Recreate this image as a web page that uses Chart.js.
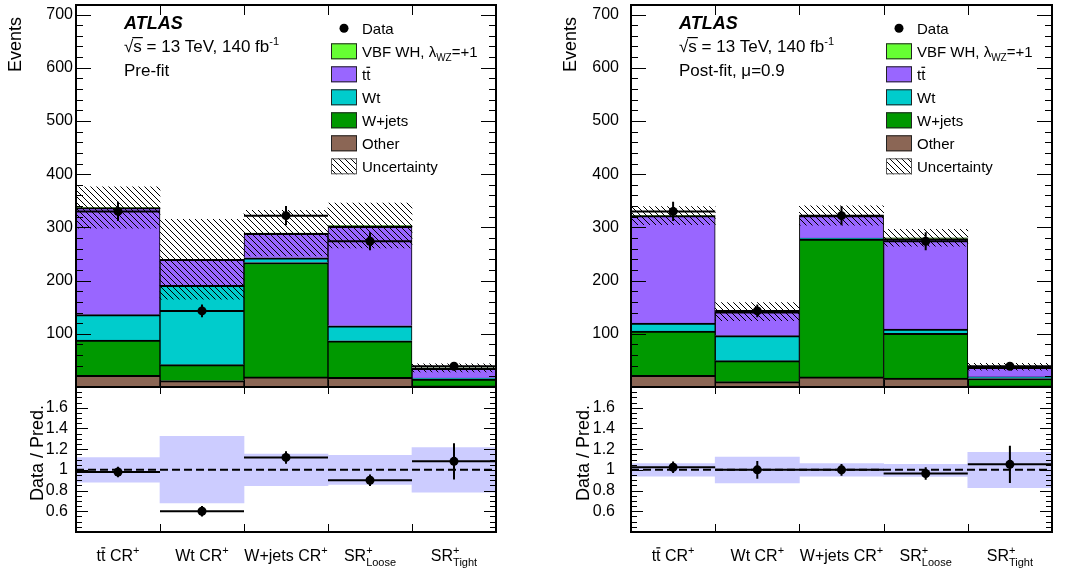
<!DOCTYPE html>
<html>
<head>
<meta charset="utf-8">
<script src="https://cdn.jsdelivr.net/npm/chart.js@4.4.1/dist/chart.umd.min.js"></script>
<style>
  html, body { margin: 0; padding: 0; background: #fff; }
  #wrap { position: relative; width: 1067px; height: 573px; overflow: hidden; }
  canvas { position: absolute; top: 0; }
</style>
</head>
<body>
<div id="wrap">
  <canvas id="prefit" width="533" height="573" style="left:0"></canvas>
  <canvas id="postfit" width="534" height="573" style="left:533px"></canvas>
</div>
<script>
const FONT = '"Liberation Sans", Arial, Helvetica, sans-serif';

const categories = ['tt CR+', 'Wt CR+', 'W+jets CR+', 'SR+ Loose', 'SR+ Tight'];

// observed data, same in both panels
const dataEvents = [330, 143, 322, 274, 39];
const dataErr = [18, 12, 18, 17, 6];

// pre-fit backgrounds (events per region)
const preOther = [22, 12, 19, 18, 2];
const preWjets = [66, 30, 215, 69, 13];
const preWt = [48, 149, 9, 28, 2];
const preTtbar = [201, 49, 46, 187, 18];
const preVbf = [0.3, 0.2, 0.3, 1.5, 1];
const preUnc = [39, 75, 43, 42, 7.6];
const preRatio = [0.979, 0.60, 1.12, 0.90, 1.082];
const preRatioErr = [0.05, 0.05, 0.06, 0.055, 0.175];
const preBandLo = [0.882, 0.68, 0.848, 0.86, 0.785];
const preBandHi = [1.118, 1.323, 1.152, 1.14, 1.214];

// post-fit backgrounds
const postOther = [22, 10, 19, 17, 2];
const postWjets = [83, 39.5, 259, 84, 14];
const postWt = [15, 47, 2, 8, 3];
const postTtbar = [202, 45, 42, 170, 18];
const postVbf = [0.3, 0.2, 0.3, 1.5, 1];
const postUnc = [17, 17, 18, 16, 6.5];
const postRatio = [1.025, 1.0, 1.0, 0.965, 1.053];
const postRatioErr = [0.055, 0.085, 0.056, 0.06, 0.18];
const postBandLo = [0.94, 0.873, 0.94, 0.937, 0.828];
const postBandHi = [1.06, 1.123, 1.06, 1.053, 1.169];

const COL = {
  vbf: '#66ff33',
  ttbar: '#9966ff',
  wt: '#00cccc',
  wjets: '#009900',
  other: '#8b6655',
  band: '#ccccff'
};

// rich text pieces for labels with sub/superscripts
const SUP = { s: 11, dy: -7 };
const categoryRich = [
  [{ t: 't' }, { t: 't', over: true }, { t: ' CR' }, { t: '+', ...SUP }],
  [{ t: 'Wt CR' }, { t: '+', ...SUP }],
  [{ t: 'W+jets CR' }, { t: '+', ...SUP }],
  [{ t: 'SR' }, { t: '+', ...SUP, hold: true }, { t: 'Loose', s: 11, dy: 5 }],
  [{ t: 'SR' }, { t: '+', ...SUP, hold: true }, { t: 'Tight', s: 11, dy: 5 }]
];

Chart.defaults.font.family = FONT;
Chart.defaults.color = '#000';

function makeHatch(step) {
  const c = document.createElement('canvas');
  c.width = step; c.height = step;
  const g = c.getContext('2d');
  g.strokeStyle = '#000';
  g.lineWidth = 1;
  g.beginPath();
  g.moveTo(-1, -1); g.lineTo(step + 1, step + 1);
  g.moveTo(step - 1, -1); g.lineTo(step + 1, 1);
  g.moveTo(-1, step - 1); g.lineTo(1, step + 1);
  g.stroke();
  return g.createPattern(c, 'repeat');
}
const hatch = makeHatch(6);

function fontOf(p, base) {
  return (p.bold ? 'bold ' : '') + (p.italic ? 'italic ' : '') + (p.s || base) + 'px ' + FONT;
}

function richWidth(ctx, parts, base) {
  let w = 0, hold = 0;
  for (const p of parts) {
    ctx.font = fontOf(p, base);
    const pw = ctx.measureText(p.t).width;
    if (p.hold) { hold = pw; continue; }
    w += Math.max(pw, hold); hold = 0;
  }
  return w + hold;
}

function drawRich(ctx, x, y, parts, base, align) {
  if (align === 'center') x -= richWidth(ctx, parts, base) / 2;
  ctx.textAlign = 'left';
  ctx.textBaseline = 'alphabetic';
  ctx.fillStyle = '#000';
  let hold = 0;
  for (const p of parts) {
    const size = p.s || base;
    ctx.font = fontOf(p, base);
    const pw = ctx.measureText(p.t).width;
    ctx.fillText(p.t, x, y + (p.dy || 0));
    if (p.over) ctx.fillRect(x + pw * 0.05, y - size * 0.86, pw * 0.9, 1.2);
    if (p.hold) { hold = pw; continue; }
    x += Math.max(pw, hold); hold = 0;
  }
}

function drawErrors(ctx, xs, ys, vals, errs) {
  const half = (xs.getPixelForValue(1) - xs.getPixelForValue(0)) / 2;
  ctx.save();
  ctx.beginPath();
  ctx.rect(xs.left, ys.top, xs.right - xs.left, ys.bottom - ys.top);
  ctx.clip();
  ctx.strokeStyle = '#000';
  ctx.lineWidth = 2;
  vals.forEach((v, i) => {
    const cx = xs.getPixelForValue(i);
    const cy = ys.getPixelForValue(v);
    ctx.beginPath();
    ctx.moveTo(cx - half, cy); ctx.lineTo(cx + half, cy);
    ctx.moveTo(cx, ys.getPixelForValue(v - errs[i]));
    ctx.lineTo(cx, ys.getPixelForValue(v + errs[i]));
    ctx.stroke();
  });
  ctx.restore();
}

function makePlugin(p) {
  return {
    id: 'atlasPad',
    afterDatasetDraw(chart, args) {
      const ds = chart.data.datasets[args.index];
      const ctx = chart.ctx, xs = chart.scales.x;
      if (ds.role === 'unc') {
        drawErrors(ctx, xs, chart.scales.y, dataEvents, dataErr);
      }
      if (ds.role === 'band') {
        const yr = chart.scales.yr;
        const y1 = yr.getPixelForValue(1);
        ctx.save();
        ctx.strokeStyle = '#000';
        ctx.lineWidth = 2;
        ctx.setLineDash([8, 4]);
        ctx.beginPath();
        ctx.moveTo(xs.left, y1); ctx.lineTo(xs.right, y1);
        ctx.stroke();
        ctx.restore();
        drawErrors(ctx, xs, yr, p.ratio, p.ratioErr);
      }
    },
    afterDraw(chart) {
      const ctx = chart.ctx;
      const xs = chart.scales.x, y = chart.scales.y, yr = chart.scales.yr;
      const L = xs.left, R = xs.right;
      ctx.save();
      ctx.strokeStyle = '#000';
      ctx.fillStyle = '#000';

      // frames
      ctx.lineWidth = 2;
      ctx.strokeRect(L, y.top, R - L, y.bottom - y.top);
      ctx.strokeRect(L, yr.top, R - L, yr.bottom - yr.top);

      // y ticks, main pad
      ctx.lineWidth = 1;
      ctx.beginPath();
      for (let v = 0; v <= 700; v += 20) {
        const py = Math.round(y.getPixelForValue(v)) + 0.5;
        const len = v % 100 === 0 ? 15 : 7;
        ctx.moveTo(L, py); ctx.lineTo(L + len, py);
        ctx.moveTo(R, py); ctx.lineTo(R - len, py);
      }
      // y ticks, ratio pad
      for (let k = 8; k <= 36; k++) {
        const py = Math.round(yr.getPixelForValue(k * 0.05)) + 0.5;
        const len = k % 4 === 0 ? 12 : 6;
        ctx.moveTo(L, py); ctx.lineTo(L + len, py);
        ctx.moveTo(R, py); ctx.lineTo(R - len, py);
      }
      // x ticks at bin edges
      for (let i = 0; i < categories.length - 1; i++) {
        const px = Math.round((xs.getPixelForValue(i) + xs.getPixelForValue(i + 1)) / 2) + 0.5;
        ctx.moveTo(px, y.top); ctx.lineTo(px, y.top + 10);
        ctx.moveTo(px, y.bottom); ctx.lineTo(px, y.bottom - 7);
        ctx.moveTo(px, yr.top); ctx.lineTo(px, yr.top + 7);
        ctx.moveTo(px, yr.bottom); ctx.lineTo(px, yr.bottom - 8);
      }
      ctx.stroke();

      // axis titles
      ctx.font = '18px ' + FONT;
      ctx.textBaseline = 'middle';
      ctx.textAlign = 'right';
      ctx.save();
      ctx.translate(L - 60, 17);
      ctx.rotate(-Math.PI / 2);
      ctx.fillText('Events', 0, 0);
      ctx.restore();
      ctx.save();
      ctx.translate(L - p.ratioTitleOff, 405);
      ctx.rotate(-Math.PI / 2);
      ctx.fillText('Data / Pred.', 0, 0);
      ctx.restore();

      // ATLAS label block
      const tx = L + 48;
      drawRich(ctx, tx, 29, [{ t: 'ATLAS', bold: true, italic: true }], 18);
      ctx.font = '17px ' + FONT;
      const wRoot = ctx.measureText('\u221A').width;
      const ws = ctx.measureText('s').width;
      drawRich(ctx, tx, 52, [{ t: '\u221A' }, { t: 's' }, { t: ' = 13 TeV, 140 fb' }, { t: '-1', s: 11, dy: -7 }], 17);
      ctx.fillRect(tx + wRoot - 1, 52 - 15, ws + 2, 1.2);
      drawRich(ctx, tx, 76, p.fitLabel, 17);

      // legend
      const bx = L + 255, bw = 26, bh = 16;
      const rows = [
        { kind: 'dot', text: [{ t: 'Data' }] },
        { kind: 'box', color: COL.vbf, text: [{ t: 'VBF WH, \u03BB' }, { t: 'WZ', s: 10, dy: 4 }, { t: '=+1' }] },
        { kind: 'box', color: COL.ttbar, text: [{ t: 't' }, { t: 't', over: true }] },
        { kind: 'box', color: COL.wt, text: [{ t: 'Wt' }] },
        { kind: 'box', color: COL.wjets, text: [{ t: 'W+jets' }] },
        { kind: 'box', color: COL.other, text: [{ t: 'Other' }] },
        { kind: 'hatch', text: [{ t: 'Uncertainty' }] }
      ];
      rows.forEach((r, k) => {
        const cy = 28.3 + 23 * k;
        if (r.kind === 'dot') {
          ctx.beginPath();
          ctx.arc(bx + bw / 2, cy, 4.5, 0, Math.PI * 2);
          ctx.fill();
        } else {
          ctx.fillStyle = r.kind === 'hatch' ? '#fff' : r.color;
          ctx.fillRect(bx, cy - bh / 2, bw, bh);
          if (r.kind === 'hatch') {
            ctx.fillStyle = hatch;
            ctx.fillRect(bx, cy - bh / 2, bw, bh);
          }
          ctx.strokeStyle = r.kind === 'hatch' ? '#555' : '#222';
          ctx.lineWidth = 1;
          ctx.strokeRect(bx + 0.5, cy - bh / 2 + 0.5, bw - 1, bh - 1);
          ctx.fillStyle = '#000';
        }
        drawRich(ctx, bx + bw + 5, cy + 5.3, r.text, 15);
      });

      // category labels under the ratio pad
      categoryRich.forEach((parts, i) => {
        drawRich(ctx, xs.getPixelForValue(i), 561, parts, 16, 'center');
      });
      ctx.restore();
    }
  };
}

function makePanel(id, p) {
  const comps = [
    ['Other', p.other, COL.other],
    ['W+jets', p.wjets, COL.wjets],
    ['Wt', p.wt, COL.wt],
    ['ttbar', p.ttbar, COL.ttbar],
    ['VBF WH', p.vbf, COL.vbf]
  ];
  const total = categories.map((_, i) => comps.reduce((s, c) => s + c[1][i], 0));

  const datasets = [
    { type: 'line', role: 'data', data: dataEvents, yAxisID: 'y', stack: 'data', showLine: false,
      pointRadius: 4.5, pointHoverRadius: 4.5, pointBorderWidth: 0, pointBackgroundColor: '#000', order: 0 },
    { type: 'line', role: 'rdata', data: p.ratio, yAxisID: 'yr', stack: 'rdata', showLine: false,
      pointRadius: 4.5, pointHoverRadius: 4.5, pointBorderWidth: 0, pointBackgroundColor: '#000', order: 0 },
    { role: 'unc', data: total.map((t, i) => [t - p.unc[i], t + p.unc[i]]), yAxisID: 'y', stack: 'unc',
      backgroundColor: hatch, borderWidth: 0, grouped: false, barPercentage: 1, categoryPercentage: 1, order: 5 },
    { role: 'band', data: p.bandLo.map((lo, i) => [lo, p.bandHi[i]]), yAxisID: 'yr', stack: 'band',
      backgroundColor: COL.band, borderWidth: 0, grouped: false, barPercentage: 1, categoryPercentage: 1, order: 10 }
  ];
  comps.forEach(c => datasets.push({
    label: c[0], data: c[1], yAxisID: 'y', stack: 'bkg',
    backgroundColor: c[2], borderColor: '#000',
    borderWidth: { top: 2, left: 1, right: 1, bottom: 0 }, borderSkipped: false,
    grouped: false, barPercentage: 1, categoryPercentage: 1, order: 10
  }));

  return new Chart(document.getElementById(id), {
    type: 'bar',
    data: { labels: categories, datasets },
    options: {
      responsive: false,
      animation: false,
      devicePixelRatio: 1,
      layout: { padding: { top: 5, right: p.rightPad, left: 0, bottom: 0 } },
      plugins: { legend: { display: false }, tooltip: { enabled: false } },
      events: [],
      scales: {
        x: {
          type: 'category', offset: true,
          grid: { display: false, drawTicks: false }, border: { display: false },
          ticks: { display: false },
          afterFit: s => { s.height = 41; s.paddingLeft = 0; s.paddingRight = 0; }
        },
        y: {
          position: 'left', stack: 'pad', stackWeight: 382, weight: 1, stacked: true,
          min: 0, max: 718,
          grid: { display: false, drawTicks: false }, border: { display: false },
          ticks: {
            stepSize: 100, autoSkip: false, includeBounds: false, padding: p.mainPad, font: { size: 16 },
            callback: v => (v > 0 && v <= 700 && v % 100 === 0) ? String(v) : ''
          },
          afterFit: s => { s.width = p.left; s.paddingTop = 0; s.paddingBottom = 0; }
        },
        yr: {
          position: 'left', stack: 'pad', stackWeight: 145, weight: 0,
          min: 0.4, max: 1.8,
          grid: { display: false, drawTicks: false }, border: { display: false },
          ticks: {
            stepSize: 0.2, autoSkip: false, includeBounds: false, padding: p.ratioPad, font: { size: 16 },
            callback: v => {
              const r = Math.round(v * 10) / 10;
              return (r > 0.5 && r < 1.7) ? String(r) : '';
            }
          },
          afterFit: s => { s.width = p.left; s.paddingTop = 0; s.paddingBottom = 0; }
        }
      }
    },
    plugins: [makePlugin(p)]
  });
}

makePanel('prefit', {
  other: preOther, wjets: preWjets, wt: preWt, ttbar: preTtbar, vbf: preVbf, unc: preUnc,
  ratio: preRatio, ratioErr: preRatioErr, bandLo: preBandLo, bandHi: preBandHi,
  fitLabel: [{ t: 'Pre-fit' }],
  left: 76, rightPad: 37, mainPad: 3, ratioPad: 8, ratioTitleOff: 37.5
});

makePanel('postfit', {
  other: postOther, wjets: postWjets, wt: postWt, ttbar: postTtbar, vbf: postVbf, unc: postUnc,
  ratio: postRatio, ratioErr: postRatioErr, bandLo: postBandLo, bandHi: postBandHi,
  fitLabel: [{ t: 'Post-fit, \u03BC=0.9' }],
  left: 98, rightPad: 15, mainPad: 12, ratioPad: 16, ratioTitleOff: 47
});
</script>
</body>
</html>
